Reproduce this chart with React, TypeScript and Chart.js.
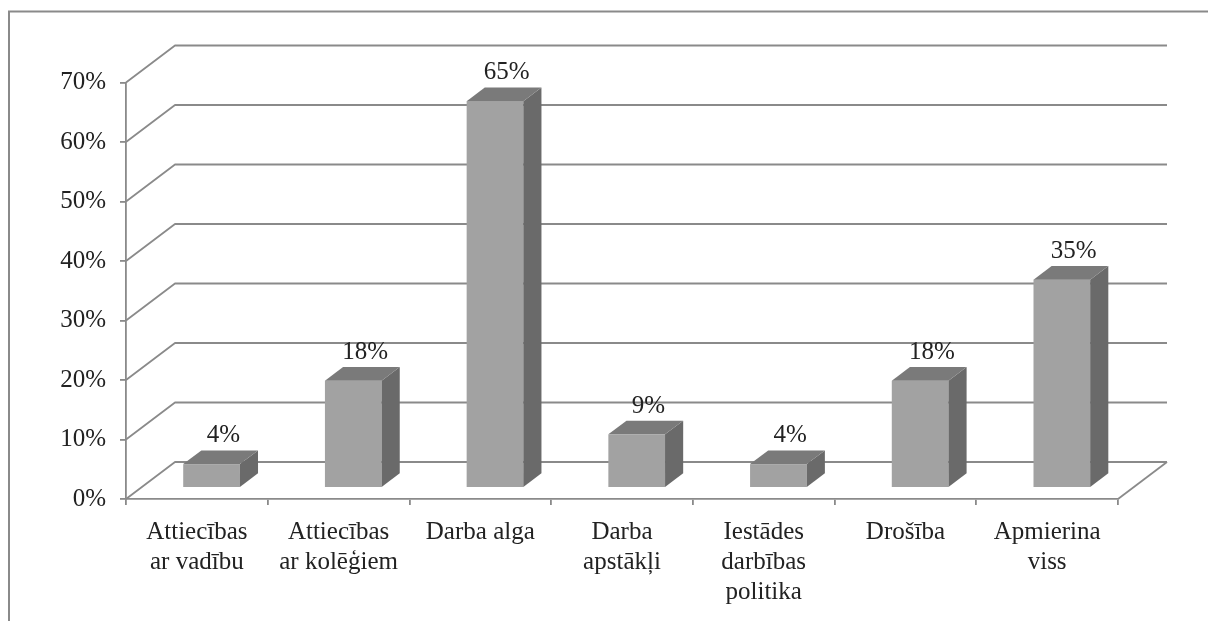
import React, { useEffect, useRef } from 'react';
import { Chart, registerables } from 'chart.js';

Chart.register(...registerables);

// Survey answers: what the respondents are satisfied with at work
const categories: (string | string[])[] = [
  ['Attiecības', 'ar vadību'],
  ['Attiecības', 'ar kolēģiem'],
  'Darba alga',
  ['Darba', 'apstākļi'],
  ['Iestādes', 'darbības', 'politika'],
  'Drošība',
  ['Apmierina', 'viss'],
];
const shares = [4, 18, 65, 9, 4, 18, 35];
const axisMax = 70;
const axisStep = 10;

// Oblique projection of the 3-D plot box (back wall offset from the front plane)
const WALL_DX = 49;
const WALL_DY = -37;
// Where the column front sits inside the box depth, and how deep a column is
const BAR_FRONT = 0.3;
const BAR_DEPTH = 0.37;

const GRID_COLOR = '#8a8a8a';
const TEXT_COLOR = '#222222';
const FONT_FAMILY = '"Liberation Serif", "Times New Roman", serif';
const FONT_SIZE = 25;

const frame = {
  id: 'frame',
  beforeDraw(chart: Chart) {
    const { ctx, width, height } = chart;
    ctx.save();
    ctx.strokeStyle = '#8a8a8a';
    ctx.lineWidth = 2;
    ctx.strokeRect(1, 3.5, width + 20, height + 20);
    ctx.restore();
  },
};

const walls = {
  id: 'walls',
  beforeDatasetsDraw(chart: Chart) {
    const { ctx, chartArea } = chart;
    const y = chart.scales.y;
    const { left, right, bottom } = chartArea;
    ctx.save();
    ctx.strokeStyle = GRID_COLOR;
    ctx.lineWidth = 1.8;
    ctx.lineJoin = 'round';
    for (let v = 0; v <= axisMax; v += axisStep) {
      const py = y.getPixelForValue(v);
      ctx.beginPath();
      ctx.moveTo(left, py);
      ctx.lineTo(left + WALL_DX, py + WALL_DY);
      ctx.lineTo(right + WALL_DX, py + WALL_DY);
      ctx.stroke();
    }
    // right edge of the floor
    ctx.beginPath();
    ctx.moveTo(right, bottom);
    ctx.lineTo(right + WALL_DX, bottom + WALL_DY);
    ctx.stroke();
    ctx.restore();
  },
};

const columns3d = {
  id: 'columns3d',
  afterDatasetsDraw(chart: Chart) {
    const { ctx } = chart;
    const meta = chart.getDatasetMeta(0);
    const sx = WALL_DX * BAR_FRONT;
    const sy = WALL_DY * BAR_FRONT;
    const dx = WALL_DX * BAR_DEPTH;
    const dy = WALL_DY * BAR_DEPTH;
    ctx.save();
    meta.data.forEach((el: any, i: number) => {
      const p = el.getProps(['x', 'y', 'base', 'width'], true);
      const x0 = p.x - p.width / 2 + sx;
      const x1 = p.x + p.width / 2 + sx;
      const yt = p.y + sy;
      const yb = p.base + sy;

      // front face
      ctx.fillStyle = '#a2a2a2';
      ctx.fillRect(x0, yt, x1 - x0, yb - yt);
      // right side
      ctx.fillStyle = '#6a6a6a';
      ctx.beginPath();
      ctx.moveTo(x1, yt);
      ctx.lineTo(x1 + dx, yt + dy);
      ctx.lineTo(x1 + dx, yb + dy);
      ctx.lineTo(x1, yb);
      ctx.closePath();
      ctx.fill();
      // top
      ctx.fillStyle = '#7a7a7a';
      ctx.beginPath();
      ctx.moveTo(x0, yt);
      ctx.lineTo(x0 + dx, yt + dy);
      ctx.lineTo(x1 + dx, yt + dy);
      ctx.lineTo(x1, yt);
      ctx.closePath();
      ctx.fill();

      // value label above the column
      ctx.fillStyle = TEXT_COLOR;
      ctx.font = `${FONT_SIZE}px ${FONT_FAMILY}`;
      ctx.textAlign = 'center';
      ctx.textBaseline = 'alphabetic';
      ctx.fillText(`${shares[i]}%`, (x0 + x1) / 2 + dx * 0.65, yt + dy - 8);
    });
    ctx.restore();
  },
};

export default function App() {
  const canvasRef = useRef<HTMLCanvasElement | null>(null);

  useEffect(() => {
    if (!canvasRef.current) return;
    const chart = new Chart(canvasRef.current, {
      type: 'bar',
      data: {
        labels: categories,
        datasets: [
          {
            data: shares,
            backgroundColor: 'rgba(0,0,0,0)',
            borderWidth: 0,
            barPercentage: 0.4,
            categoryPercentage: 1,
          },
        ],
      },
      options: {
        animation: false,
        responsive: true,
        maintainAspectRatio: false,
        layout: { padding: { left: 0, top: 74.5, right: 98, bottom: 0 } },
        plugins: {
          legend: { display: false },
          tooltip: { enabled: false },
        },
        scales: {
          x: {
            offset: true,
            afterFit(scale: any) {
              scale.height = 122;
            },
            grid: {
              offset: true,
              drawOnChartArea: false,
              drawTicks: true,
              tickLength: 6,
              color: GRID_COLOR,
              lineWidth: 1.8,
            },
            border: { display: true, color: GRID_COLOR, width: 1.8 },
            ticks: {
              color: TEXT_COLOR,
              padding: 12,
              maxRotation: 0,
              autoSkip: false,
              font: { family: FONT_FAMILY, size: FONT_SIZE, lineHeight: 1.2 },
            },
          },
          y: {
            min: 0,
            max: axisMax,
            afterFit(scale: any) {
              scale.width = 118;
            },
            grid: {
              drawOnChartArea: false,
              drawTicks: true,
              tickLength: 6,
              color: GRID_COLOR,
              lineWidth: 1.8,
            },
            border: { display: true, color: GRID_COLOR, width: 1.8 },
            ticks: {
              stepSize: axisStep,
              color: TEXT_COLOR,
              padding: 14,
              font: { family: FONT_FAMILY, size: FONT_SIZE },
              callback: (v: any) => `${v}%`,
            },
          },
        },
      },
      plugins: [frame, walls, columns3d],
    });
    return () => chart.destroy();
  }, []);

  return (
    <div style={{ position: 'relative', width: 1208, height: 613, background: '#fff' }}>
      <canvas ref={canvasRef} />
    </div>
  );
}
